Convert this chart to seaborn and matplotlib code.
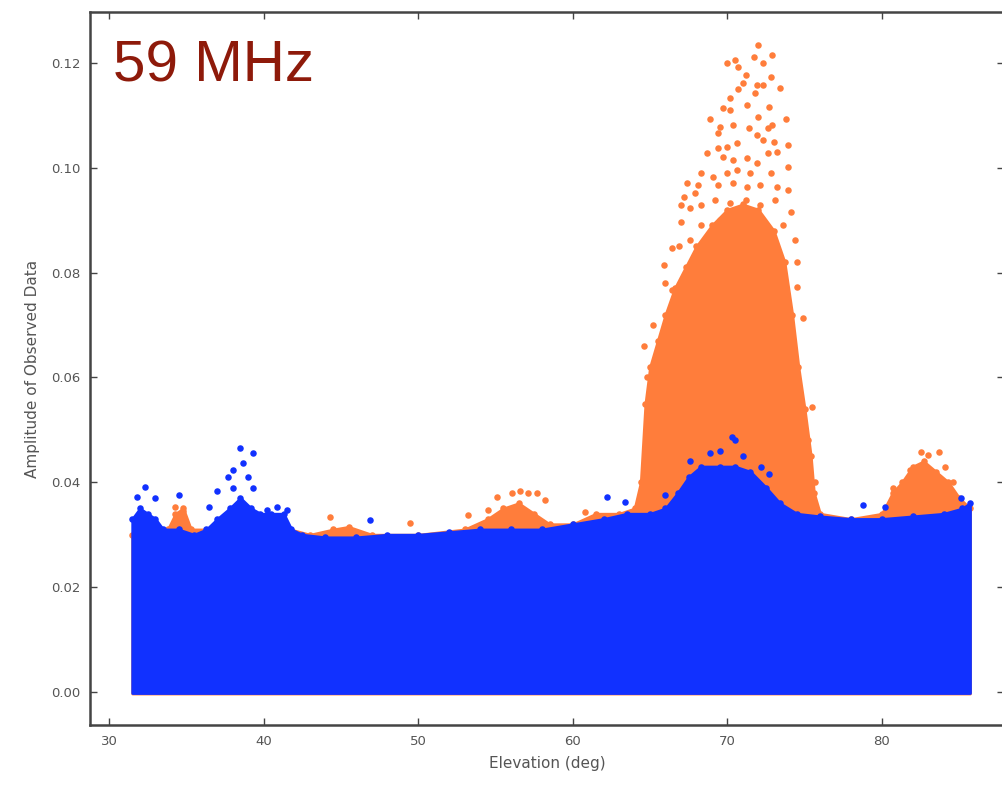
import matplotlib
matplotlib.use('Agg')
import matplotlib.pyplot as plt
import seaborn as sns
import pandas as pd

BLUE = '#1131ff'
ORANGE = '#ff7d3b'

# upper edge of the dense blue band (elevation deg, amplitude)
blue_elev = [31.5, 32.0, 32.5, 33.0, 33.5, 34.5, 35.5, 36.3, 37.0, 37.8, 38.5, 39.2, 39.8,
             40.5, 41.3, 41.8, 42.5, 44.0, 46.0, 48.0, 50.0, 52.0, 54.0, 56.0, 58.0, 60.0,
             62.0, 63.5, 65.0, 66.0, 66.8, 67.5, 68.3, 69.5, 70.5, 71.5, 72.5, 73.4, 74.5,
             76.0, 78.0, 80.0, 82.0, 84.0, 85.2, 85.7]
blue_top = [0.033, 0.035, 0.034, 0.033, 0.031, 0.031, 0.030, 0.031, 0.033, 0.035, 0.037, 0.035, 0.034,
            0.034, 0.034, 0.031, 0.030, 0.0295, 0.0295, 0.030, 0.030, 0.0305, 0.031, 0.031, 0.031, 0.032,
            0.033, 0.034, 0.034, 0.035, 0.038, 0.041, 0.043, 0.043, 0.043, 0.042, 0.039, 0.036, 0.034,
            0.0335, 0.033, 0.033, 0.0335, 0.034, 0.035, 0.036]

# scattered blue points sticking out above the band
blue_dots_x = [32.3, 31.8, 33.0, 34.5, 37.0, 36.5, 37.7, 38.0, 38.5, 39.3, 38.7, 39.0, 38.0, 39.3,
               40.2, 40.9, 41.5, 46.9, 62.2, 63.4, 66.0, 67.6, 68.9, 69.5, 70.3, 70.5, 71.0, 72.2,
               72.7, 78.8, 80.2, 85.1]
blue_dots_y = [0.0391, 0.0372, 0.0370, 0.0376, 0.0383, 0.0353, 0.0410, 0.0424, 0.0465, 0.0456, 0.0437,
               0.0410, 0.0390, 0.0390, 0.0347, 0.0353, 0.0347, 0.0328, 0.0372, 0.0362, 0.0375, 0.0440,
               0.0455, 0.0460, 0.0487, 0.0480, 0.0450, 0.0430, 0.0415, 0.0357, 0.0353, 0.0370]

# upper edge of the dense orange band
orange_elev = [31.5, 33.8, 34.3, 34.8, 35.3, 37.0, 39.5, 40.5, 43.0, 44.5, 45.5, 47.0, 50.0, 53.0,
               54.5, 55.5, 56.5, 57.5, 58.5, 60.0, 61.5, 63.0, 64.0, 64.4, 64.7, 65.0, 65.5, 66.0,
               66.6, 67.3, 68.0, 69.0, 70.0, 71.0, 72.0, 73.0, 73.7, 74.2, 74.6, 75.0, 75.4, 75.6,
               76.0, 78.0, 80.0, 80.7, 81.3, 82.0, 82.7, 83.5, 84.3, 85.0, 85.7]
orange_top = [0.030, 0.031, 0.034, 0.035, 0.031, 0.031, 0.033, 0.032, 0.030, 0.031, 0.0315, 0.030, 0.030,
              0.031, 0.033, 0.035, 0.036, 0.034, 0.032, 0.032, 0.034, 0.034, 0.035, 0.040, 0.055, 0.062,
              0.067, 0.072, 0.077, 0.081, 0.085, 0.089, 0.092, 0.093, 0.092, 0.088, 0.082, 0.072, 0.062,
              0.054, 0.045, 0.038, 0.034, 0.033, 0.034, 0.038, 0.040, 0.043, 0.044, 0.042, 0.040, 0.037,
              0.035]

# sparse orange points above the band
orange_dots_x = [72.0, 72.9, 71.7, 72.3, 70.0, 70.5, 70.7, 71.2, 72.8, 71.0, 70.7, 71.9, 72.3, 73.4,
                 71.8, 70.2, 71.3, 69.7, 70.2, 72.7, 68.9, 72.0, 73.8, 69.5, 70.4, 71.4, 72.9, 72.6,
                 69.4, 71.9, 72.3, 73.0, 73.9, 69.4, 70.0, 70.6, 68.7, 72.6, 73.2, 69.7, 70.4, 71.3,
                 71.9, 73.9, 68.3, 69.1, 70.0, 70.6, 71.5, 72.8, 67.4, 68.1, 69.4, 70.4, 71.3, 72.1,
                 73.2, 67.2, 67.9, 73.9, 67.0, 67.6, 68.3, 69.2, 70.2, 71.2, 72.1, 73.1, 74.1, 67.0,
                 68.3, 69.5, 70.8, 72.3, 73.6, 66.4, 67.6, 74.4, 65.9, 74.5, 64.8, 65.7, 66.4, 74.9,
                 75.5, 74.5, 64.6, 65.2, 66.0, 66.9, 75.2, 75.7,
                 55.1, 56.1, 56.6, 57.1, 57.7, 58.2, 54.5, 53.2, 60.8, 34.3, 34.8, 44.3, 49.5,
                 82.5, 83.7, 83.0, 84.1, 80.7, 81.8, 84.6]
orange_dots_y = [0.1234, 0.1215, 0.1211, 0.1200, 0.1200, 0.1206, 0.1192, 0.1177, 0.1173, 0.1162, 0.1150,
                 0.1158, 0.1158, 0.1152, 0.1143, 0.1133, 0.1120, 0.1114, 0.1110, 0.1116, 0.1093, 0.1097,
                 0.1093, 0.1078, 0.1082, 0.1076, 0.1082, 0.1076, 0.1066, 0.1063, 0.1053, 0.1049, 0.1043,
                 0.1038, 0.1040, 0.1047, 0.1028, 0.1028, 0.1030, 0.1021, 0.1015, 0.1019, 0.1009, 0.1002,
                 0.0990, 0.0982, 0.0990, 0.0996, 0.0990, 0.0990, 0.0971, 0.0967, 0.0967, 0.0971, 0.0963,
                 0.0967, 0.0963, 0.0944, 0.0952, 0.0958, 0.0929, 0.0923, 0.0929, 0.0939, 0.0933, 0.0939,
                 0.0929, 0.0939, 0.0916, 0.0897, 0.0891, 0.0900, 0.0891, 0.0897, 0.0891, 0.0847, 0.0862,
                 0.0862, 0.0815, 0.0820, 0.0600, 0.0649, 0.0767, 0.0713, 0.0544, 0.0773,
                 0.0660, 0.0700, 0.0780, 0.0850, 0.0480, 0.0400,
                 0.0372, 0.0380, 0.0383, 0.0380, 0.0380, 0.0366, 0.0347, 0.0338, 0.0343, 0.0353, 0.0345,
                 0.0334, 0.0322,
                 0.0458, 0.0458, 0.0452, 0.0429, 0.0389, 0.0424, 0.0400]

orange_dots = pd.DataFrame({'elev': orange_dots_x, 'amp': orange_dots_y})
blue_dots = pd.DataFrame({'elev': blue_dots_x, 'amp': blue_dots_y})
orange_edge = pd.DataFrame({'elev': orange_elev, 'amp': orange_top})
blue_edge = pd.DataFrame({'elev': blue_elev, 'amp': blue_top})

sns.set_style('ticks')
plt.rcParams['font.family'] = ['DejaVu Sans']

fig = plt.figure(figsize=(10.03, 7.85), dpi=100)
ax = fig.add_axes([90 / 1003, 60 / 785, 914 / 1003, 713 / 785])

# orange data underneath, blue on top
ax.fill_between(orange_elev, -0.0003, orange_top, color=ORANGE, lw=2, zorder=1)
sns.scatterplot(data=orange_edge, x='elev', y='amp', color=ORANGE, s=22, linewidth=0,
                ax=ax, zorder=2)
sns.scatterplot(data=orange_dots, x='elev', y='amp', color=ORANGE, s=22, linewidth=0,
                ax=ax, zorder=2)
ax.fill_between(blue_elev, -0.0002, blue_top, color=BLUE, lw=2, zorder=3)
sns.scatterplot(data=blue_edge, x='elev', y='amp', color=BLUE, s=22, linewidth=0,
                ax=ax, zorder=4)
sns.scatterplot(data=blue_dots, x='elev', y='amp', color=BLUE, s=22, linewidth=0,
                ax=ax, zorder=4)

ax.set_xlim(28.77, 87.9)
ax.set_ylim(-0.0063, 0.1297)
ax.set_xticks([30, 40, 50, 60, 70, 80])
ax.set_yticks([0.0, 0.02, 0.04, 0.06, 0.08, 0.10, 0.12])
ax.set_yticklabels([f'{v:.2f}' for v in ax.get_yticks()])

ax.tick_params(direction='in', length=5, width=1, top=True, right=True,
               labelsize=9.5, labelcolor='#555555', color='#444444', pad=7)
for sp in ax.spines.values():
    sp.set_linewidth(1.8)
    sp.set_color('#444444')

ax.set_xlabel('Elevation (deg)', fontsize=11, color='#555555', labelpad=6)
ax.set_ylabel('Amplitude of Observed Data', fontsize=11, color='#555555', labelpad=8)

fig.text(113 / 1003, 1 - 82 / 785, '59 MHz', fontsize=42, color='#8e1a0a',
         family=['Liberation Sans', 'DejaVu Sans'], va='baseline', ha='left')

fig.savefig('out.png', dpi=100)
